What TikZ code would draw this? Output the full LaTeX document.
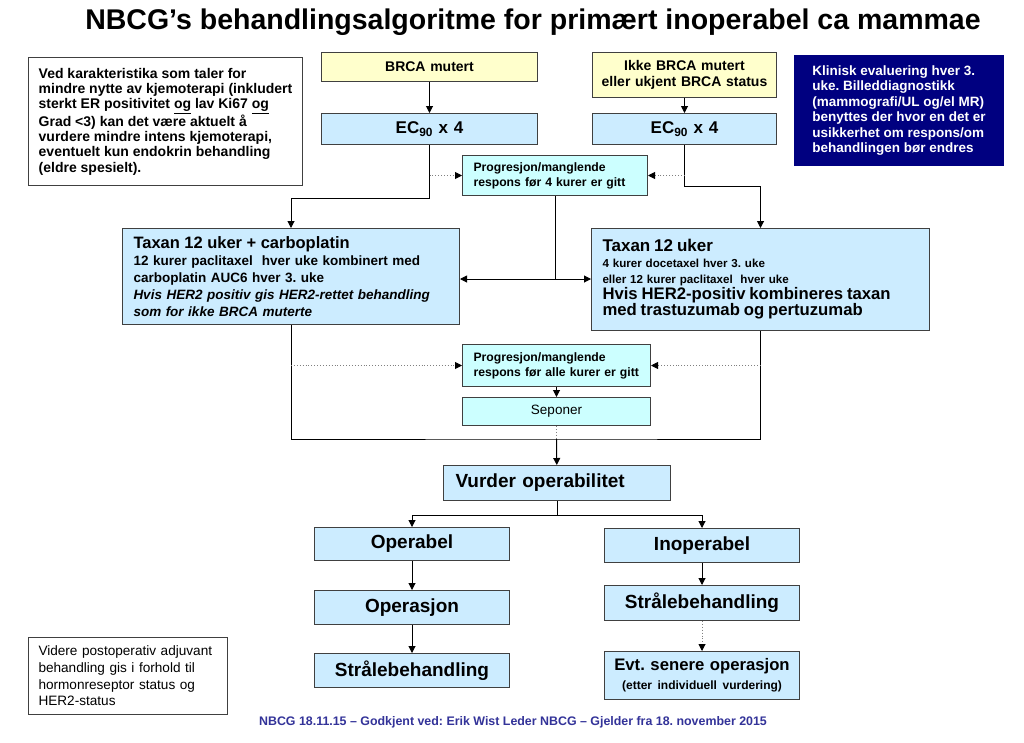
\documentclass[tikz,border=0pt]{standalone}
\usepackage{fontspec}
\setmainfont{Liberation Sans}
\usetikzlibrary{arrows.meta,calc,positioning}
\definecolor{nbcgyellow}{RGB}{255,255,204}
\definecolor{nbcgblue}{RGB}{204,236,255}
\definecolor{nbcgcyan}{RGB}{204,255,255}
\definecolor{nbcgnavy}{RGB}{0,0,128}
\definecolor{nbcgfoot}{RGB}{51,51,153}
\definecolor{nbcgline}{RGB}{64,64,64}

\begin{document}
\frenchspacing
\begin{tikzpicture}[x=1pt, y=-1pt,
    box/.style={draw=nbcgline, line width=1pt, anchor=north west, inner xsep=0pt, inner ysep=2pt, align=center, font=\bfseries},
    padbox/.style={box, inner xsep=11pt, align=left},
    bigtxt/.style={font=\bfseries\fontsize{19}{22}\selectfont},
    arr/.style={-{Triangle[length=7pt,width=7pt]}, line width=1pt},
    line/.style={line width=1pt},
    dotline/.style={dotted, line width=0.9pt, draw=gray},
    dotarr/.style={dotline, -{Triangle[length=7pt,width=7pt,color=black]}}
  ]
  \fill[white] (0,0) rectangle (1024,742);
  \useasboundingbox (0,0) rectangle (1024,742);

  \node[font=\bfseries\fontsize{28.5}{32}\selectfont] (title) at (533,22)
    {NBCG’s behandlingsalgoritme for primært inoperabel ca mammae};

  % side notes
  \node[box, align=left, fill=white, minimum width=274pt, minimum height=128pt,
        font=\bfseries\fontsize{14}{15.3}\selectfont] (crit) at (28,57) {
    Ved karakteristika som taler for\\
    mindre nytte av kjemoterapi (inkludert\\
    sterkt ER positivitet \underline{og} lav Ki67 \underline{og}\\
    Grad <3) kan det være aktuelt å\\
    vurdere mindre intens kjemoterapi,\\
    eventuelt kun endokrin behandling\\
    (eldre spesielt).
  };

  \node[box, align=left, draw=nbcgnavy, fill=nbcgnavy, text=white, minimum width=209pt, minimum height=110pt,
        font=\bfseries\fontsize{13.5}{15.5}\selectfont] (klin) at (794,55) {
    Klinisk evaluering hver 3.\\
    uke. Billeddiagnostikk\\
    (mammografi/UL og/el MR)\\
    benyttes der hvor en det er\\
    usikkerhet om respons/om\\
    behandlingen bør endres
  };

  \node[padbox, fill=white, inner xsep=10pt, font=\fontsize{13.6}{16.6}\selectfont, text width=179pt, minimum height=77pt] (post) at (28,637) {
    Videre postoperativ adjuvant\\
    behandling gis i forhold til\\
    hormonreseptor status og\\
    HER2-status
  };

  % start
  \node[box, fill=nbcgyellow, text width=216pt, minimum height=29pt, font=\bfseries\fontsize{14}{16}\selectfont] (brca) at (321,52) {BRCA mutert};
  \node[box, fill=nbcgyellow, text width=184pt, minimum height=45pt, font=\bfseries\fontsize{14}{16.5}\selectfont] (ikke) at (592,52)
    {Ikke BRCA mutert\\eller ukjent BRCA status};

  \node[box, fill=nbcgblue, text width=216pt, minimum height=31pt, font=\bfseries\fontsize{17}{20}\selectfont] (ecl) at (321,113) {EC\textsubscript{90} x 4};
  \node[box, fill=nbcgblue, text width=184pt, minimum height=31pt, font=\bfseries\fontsize{17}{20}\selectfont] (ecr) at (592,113) {EC\textsubscript{90} x 4};

  \node[padbox, fill=nbcgcyan, inner xsep=11pt, text width=163pt, minimum height=40pt, font=\bfseries\fontsize{12.2}{15}\selectfont] (prog1) at (462,155)
    {Progresjon/manglende\\respons før 4 kurer er gitt};

  % taxan
  \node[padbox, fill=nbcgblue, text width=315pt, minimum height=96pt, font=\bfseries\fontsize{13.5}{17}\selectfont] (taxl) at (122,228) {
    {\fontsize{16.5}{18}\selectfont Taxan 12 uker + carboplatin}\\
    12 kurer paclitaxel~ hver uke kombinert med\\
    carboplatin AUC6 hver 3. uke\\
    \itshape Hvis HER2 positiv gis HER2-rettet behandling\\
    \itshape som for ikke BRCA muterte
  };
  \node[padbox, fill=nbcgblue, text width=316pt, minimum height=102pt, font=\bfseries\fontsize{11.6}{16}\selectfont] (taxr) at (591,228) {
    {\fontsize{17}{20}\selectfont Taxan 12 uker}\\
    4 kurer docetaxel hver 3. uke\\
    eller 12 kurer paclitaxel~ hver uke\\
    {\fontsize{16.7}{19}\selectfont Hvis HER2-positiv kombineres taxan}\\
    {\fontsize{16.7}{19}\selectfont med trastuzumab og pertuzumab}
  };

  \node[padbox, fill=nbcgcyan, inner xsep=11pt, text width=166pt, minimum height=42pt, font=\bfseries\fontsize{12.2}{15}\selectfont] (prog2) at (462,344)
    {Progresjon/manglende\\respons før alle kurer er gitt};
  \node[box, fill=nbcgcyan, text width=188pt, minimum height=28pt, font=\fontsize{13.5}{15}\selectfont] (sepo) at (462,397) {Seponer};

  % operabilitet
  \node[padbox, bigtxt, fill=nbcgblue, inner xsep=12pt, text width=203pt, minimum height=35pt] (vurd) at (443,465) {Vurder operabilitet};
  \node[box, bigtxt, fill=nbcgblue, text width=195pt, minimum height=33pt] (oper) at (314,527) {Operabel};
  \node[box, bigtxt, fill=nbcgblue, text width=195pt, minimum height=34pt] (inop) at (604,528) {Inoperabel};
  \node[box, bigtxt, fill=nbcgblue, text width=195pt, minimum height=34pt] (opsj) at (314,590) {Operasjon};
  \node[box, bigtxt, fill=nbcgblue, text width=195pt, minimum height=35pt] (strr) at (604,585) {Strålebehandling};
  \node[box, bigtxt, fill=nbcgblue, text width=195pt, minimum height=34pt] (strl) at (314,653) {Strålebehandling};
  \node[box, fill=nbcgblue, text width=195pt, minimum height=48pt, font=\bfseries\fontsize{16.7}{19}\selectfont] (evt) at (604,651)
    {Evt. senere operasjon\\{\fontsize{12}{14}\selectfont (etter individuell vurdering)}};

  \node[font=\bfseries\fontsize{12.4}{14}\selectfont, text=nbcgfoot] (foot) at (513,722)
    {NBCG 18.11.15 – Godkjent ved: Erik Wist Leder NBCG – Gjelder fra 18. november 2015};

  % connectors
  \draw[arr] (brca) -- (ecl);
  \draw[arr] (ikke) -- (ecr);
  \draw[arr] (ecl.south) -- ++(0,53) -| (taxl.north);
  \draw[arr] (ecr.south) -- ++(0,41) -| (taxr.north);
  \draw[dotarr] (ecl.south |- prog1.west) -- (prog1.west);
  \draw[dotarr] (ecr.south |- prog1.east) -- (prog1.east);

  \coordinate (split) at ($(prog1.south)+(0,83)$);
  \draw[line] (prog1.south) -- (split);
  \draw[arr] (split) -- (split -| taxl.east);
  \draw[arr] (split) -- (split -| taxr.west);

  \coordinate (join) at ($(sepo.south)+(0,13)$);
  \draw[line] (taxl.south) |- (join) -| (taxr.south);
  \draw[dotarr] (taxl.south |- prog2.west) -- (prog2.west);
  \draw[dotarr] (taxr.south |- prog2.east) -- (prog2.east);
  \draw[arr] (prog2) -- (sepo);
  \draw[dotline] (sepo) -- (join);
  \draw[arr] (join) -- (vurd);

  \draw[arr] (vurd.south) -- ++(0,14) -| (oper.north);
  \draw[arr] (vurd.south) -- ++(0,14) -| (inop.north);
  \draw[arr] (oper) -- (opsj);
  \draw[arr] (opsj) -- (strl);
  \draw[arr] (inop) -- (strr);
  \draw[dotarr] (strr) -- (evt);
\end{tikzpicture}
\end{document}
